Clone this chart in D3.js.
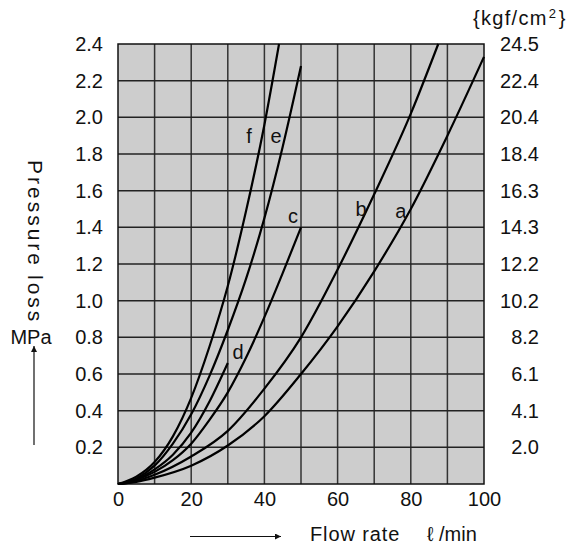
<!DOCTYPE html>
<html><head><meta charset="utf-8">
<script src="https://cdn.jsdelivr.net/npm/d3@7"></script>
<style>
body{margin:0;background:#fff;}
text{font-family:"Liberation Sans",Arial,Helvetica,sans-serif;fill:#111;}
</style>
</head><body>
<svg id="chart" width="569" height="549"></svg>
<script>
// ---- data ----
const xTickLabels = [0, 20, 40, 60, 80, 100];
const xGridValues = [10, 20, 30, 40, 50, 60, 70, 80, 90];
const yTickValues = [0.2, 0.4, 0.6, 0.8, 1.0, 1.2, 1.4, 1.6, 1.8, 2.0, 2.2, 2.4];
const yTickLabels = ["0.2","0.4","0.6","0.8","1.0","1.2","1.4","1.6","1.8","2.0","2.2","2.4"];
const kgfLabels = ["2.0","4.1","6.1","8.2","10.2","12.2","14.3","16.3","18.4","20.4","22.4","24.5"];

const curveNames = ["a","b","c","d","e","f"];
const curveA = [[0,0],[5,0.012],[10,0.035],[20,0.1],[30,0.21],[40,0.37],[50,0.6],[60,0.86],[70,1.16],[80,1.5],[90,1.9],[100,2.33]];
const curveB = [[0,0],[5,0.016],[10,0.05],[20,0.15],[30,0.29],[40,0.52],[50,0.8],[60,1.17],[70,1.58],[80,2.02],[87.5,2.4]];
const curveC = [[0,0],[5,0.022],[10,0.066],[15,0.13],[20,0.22],[25,0.35],[30,0.5],[35,0.69],[40,0.91],[45,1.15],[50,1.4]];
const curveD = [[0,0],[5,0.025],[10,0.08],[15,0.16],[20,0.28],[25,0.45],[30,0.66]];
const curveE = [[0,0],[5,0.03],[10,0.1],[15,0.22],[20,0.38],[25,0.59],[30,0.84],[35,1.12],[40,1.45],[45,1.84],[50,2.28]];
const curveF = [[0,0],[5,0.04],[10,0.12],[15,0.26],[20,0.47],[25,0.75],[30,1.08],[35,1.49],[40,1.96],[44,2.4]];
const curveLabelAt = [[77.3,1.49],[66.4,1.50],[47.8,1.46],[32.8,0.72],[43.2,1.90],[35.8,1.90]];

// ---- layout ----
const svg = d3.select("#chart");
const L = 118, R = 484, T = 44, B = 484;
const x = d3.scaleLinear().domain([0,100]).range([L,R]);
const y = d3.scaleLinear().domain([0,2.4]).range([B,T]);

svg.append("rect").attr("x",L).attr("y",T).attr("width",R-L).attr("height",B-T)
  .attr("fill","#cdcdcd");

// grid
svg.append("g").selectAll("line").data(xGridValues).join("line")
  .attr("x1",d=>x(d)).attr("x2",d=>x(d)).attr("y1",T).attr("y2",B)
  .attr("stroke","#333").attr("stroke-width",1.5);
svg.append("g").selectAll("line").data(yTickValues.slice(0,-1)).join("line")
  .attr("x1",L).attr("x2",R).attr("y1",d=>y(d)).attr("y2",d=>y(d))
  .attr("stroke","#222").attr("stroke-width",1.5);

svg.append("rect").attr("x",L).attr("y",T).attr("width",R-L).attr("height",B-T)
  .attr("fill","none").attr("stroke","#111").attr("stroke-width",1.5);

// curves
const line = d3.line().x(d=>x(d[0])).y(d=>y(d[1])).curve(d3.curveMonotoneX);
const curves = [curveA,curveB,curveC,curveD,curveE,curveF];
svg.append("g").selectAll("path").data(curves).join("path")
  .attr("d",line).attr("fill","none").attr("stroke","#000").attr("stroke-width",2.2);

svg.append("g").selectAll("text").data(curveNames).join("text")
  .attr("x",(d,i)=>x(curveLabelAt[i][0])).attr("y",(d,i)=>y(curveLabelAt[i][1]))
  .attr("dy","0.35em").attr("text-anchor","middle").attr("font-size",20).text(d=>d);

// axes labels
const yAxisL = d3.axisLeft(y).tickValues(yTickValues).tickFormat((d,i)=>yTickLabels[i]).tickSize(0).tickPadding(15);
const gl = svg.append("g").attr("transform",`translate(${L},0)`).call(yAxisL);
gl.select(".domain").remove();
gl.selectAll("text").attr("font-size",20).attr("font-family",null);

const yAxisR = d3.axisRight(y).tickValues(yTickValues).tickFormat((d,i)=>kgfLabels[i]).tickSize(0).tickPadding(0);
const gr = svg.append("g").attr("transform",`translate(539,0)`).call(yAxisR);
gr.select(".domain").remove();
gr.selectAll("text").attr("font-size",20).attr("font-family",null).attr("text-anchor","end");

const xAxis = d3.axisBottom(x).tickValues(xTickLabels).tickFormat(d3.format("d")).tickSize(0).tickPadding(8);
const gx = svg.append("g").attr("transform",`translate(0,${B})`).call(xAxis);
gx.select(".domain").remove();
gx.selectAll("text").attr("font-size",20).attr("font-family",null);

// unit top right
const u = svg.append("text").attr("x",473).attr("y",25).attr("font-size",20).style("letter-spacing","1.3px");
u.append("tspan").text("{kgf/cm");
u.append("tspan").attr("dy",-7).attr("dx",1).attr("font-size",13).text("2");
u.append("tspan").attr("dy",7).attr("dx",1.5).text("}");

// x title
svg.append("text").attr("x",310).attr("y",541).attr("font-size",20).style("letter-spacing","0.9px").text("Flow rate");
svg.append("text").attr("x",427).attr("y",541).attr("font-size",20).text("ℓ /min");
svg.append("defs").append("marker").attr("id","ah").attr("viewBox","0 0 10 10")
  .attr("refX",10).attr("refY",5).attr("markerWidth",10).attr("markerHeight",6)
  .attr("markerUnits","userSpaceOnUse").attr("orient","auto")
  .append("path").attr("d","M0,0L10,5L0,10Z").attr("fill","#111");
svg.append("line").attr("x1",190).attr("x2",281).attr("y1",536.5).attr("y2",536.5)
  .attr("stroke","#111").attr("stroke-width",1.2).attr("marker-end","url(#ah)");

// y title: two words placed separately to match the original spread
const yt = svg.append("g").attr("transform","translate(28,0) rotate(90)");
yt.append("text").attr("x",160).attr("y",0).attr("font-size",21).style("letter-spacing","3px").text("Pressure");
yt.append("text").attr("x",275).attr("y",0).attr("font-size",21).style("letter-spacing","3px").text("loss");
svg.append("text").attr("x",31).attr("y",344).attr("text-anchor","middle").attr("font-size",20).text("MPa");
svg.append("line").attr("x1",34).attr("x2",34).attr("y1",445).attr("y2",346)
  .attr("stroke","#111").attr("stroke-width",1.2).attr("marker-end","url(#ah)");
</script>
</body></html>
